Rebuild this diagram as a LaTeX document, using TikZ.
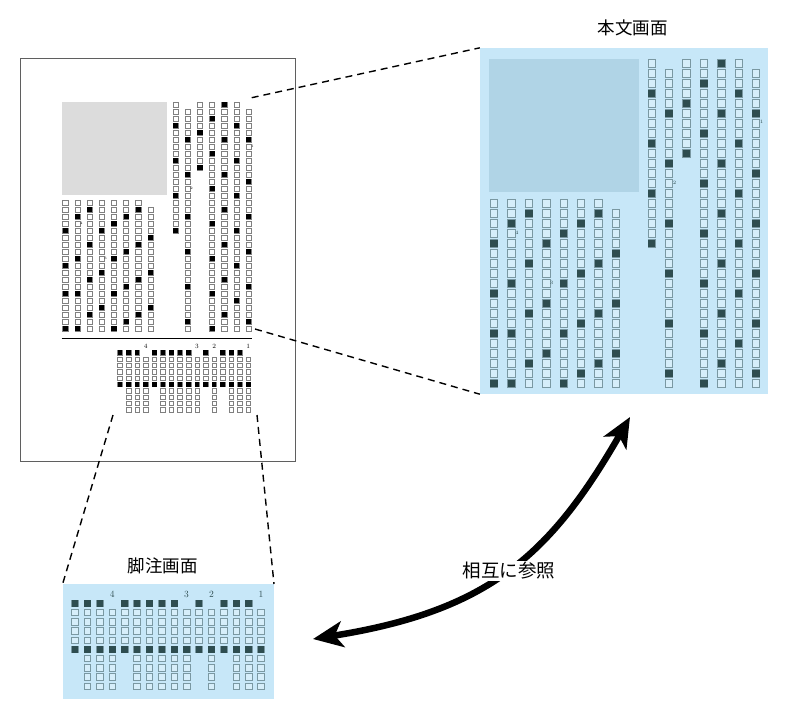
\documentclass[tikz,border=0pt]{standalone}
\usepackage{fontspec}
\newfontfamily\jpfont{Noto Sans CJK JP}
\usetikzlibrary{arrows.meta, positioning}
\definecolor{panelblue}{RGB}{199, 231, 248}
\definecolor{figblue}{RGB}{176, 212, 230}
\definecolor{inkteal}{RGB}{46, 77, 80}
\definecolor{edgeteal}{RGB}{122, 152, 162}
\definecolor{boxfill}{RGB}{214, 238, 250}
\definecolor{figgray}{RGB}{220, 220, 220}
\definecolor{pageedge}{RGB}{95, 95, 95}

% one column of body text: x, first row, last row, filled rows
\newcommand{\bodycol}[4]{%
  \foreach \rw in {#2,...,#3}
    \draw[opensq] ({\ox+\sc*(#1-3.7)},{\oy+\sc*(59.7+10*\rw)}) rectangle ++({\sc*7.4},{\sc*7.2});
  \foreach \rw in {#4}
    \fill[fullsq] ({\ox+\sc*(#1-3.7)},{\oy+\sc*(59.7+10*\rw)}) rectangle ++({\sc*7.4},{\sc*7.2});
}
% one column of footnote text
\newcommand{\notecol}[4]{%
  \foreach \rw in {#2,...,#3}
    \draw[opensq] ({\ox+\sc*(#1-3.3)},{\oy+\sc*(600.1+9.2*\rw)}) rectangle ++({\sc*6.6},{\sc*6.4});
  \foreach \rw in {#4}
    \fill[fullsq] ({\ox+\sc*(#1-3.3)},{\oy+\sc*(600.1+9.2*\rw)}) rectangle ++({\sc*6.6},{\sc*6.4});
}
% note reference numbers
\newcommand{\bodymark}[3]{\node[marktext, anchor=west] (\pfx-mark#3) at ({\ox+\sc*#1},{\oy+\sc*(63.3+10*#2)}) {#3};}
\newcommand{\notemark}[2]{\node[notenum] (\pfx-note#2) at ({\ox+\sc*#1},{\oy+\sc*594.1}) {#2};}

\newcommand{\bodytext}{%
  \fill[figbox] ({\ox+\sc*489},{\oy+\sc*59}) rectangle ({\ox+\sc*639},{\oy+\sc*192.3});
  \bodycol{494.0}{14}{32}{18,23,27,32}
  \bodycol{511.4}{14}{32}{16,22,27,32}
  \bodycol{528.8}{14}{32}{15,20,25,30}
  \bodycol{546.2}{14}{32}{18,24,29}
  \bodycol{563.6}{14}{32}{17,22,27,32}
  \bodycol{581.0}{14}{32}{16,21,26,31}
  \bodycol{598.4}{14}{32}{15,20,25,30}
  \bodycol{615.8}{15}{32}{19,24,29}
  \bodycol{651.7}{0}{18}{3,8,13,18}
  \bodycol{669.1}{1}{32}{5,10,16,21,26,31}
  \bodycol{686.5}{0}{9}{4,9}
  \bodycol{703.9}{0}{32}{2,7,12,17,22,27,32}
  \bodycol{721.3}{0}{32}{0,5,10,15,20,25,30}
  \bodycol{738.7}{0}{32}{3,8,13,18,23,28}
  \bodycol{756.1}{1}{32}{5,11,16,21,26,31}
  \bodymark{514.9}{16.9}{4}
  \bodymark{549.7}{22.0}{3}
  \bodymark{672.6}{12.0}{2}
  \bodymark{759.6}{5.9}{1}
}

\newcommand{\notetext}{%
  \notecol{75.0}{0}{5}{0,5}
  \notecol{87.4}{0}{9}{0,5}
  \notecol{99.8}{0}{9}{0,5}
  \notecol{112.2}{1}{9}{5}
  \notecol{124.6}{0}{5}{0,5}
  \notecol{137.0}{0}{9}{0,5}
  \notecol{149.4}{0}{9}{0,5}
  \notecol{161.8}{0}{9}{0,5}
  \notecol{174.2}{0}{9}{0,5}
  \notecol{186.6}{1}{9}{5}
  \notecol{199.0}{0}{5}{0,5}
  \notecol{211.4}{1}{9}{5}
  \notecol{223.8}{0}{5}{0,5}
  \notecol{236.2}{0}{9}{0,5}
  \notecol{248.6}{0}{9}{0,5}
  \notecol{261.0}{1}{9}{5}
  \notemark{112.2}{4}
  \notemark{186.6}{3}
  \notemark{211.4}{2}
  \notemark{261.0}{1}
}

\begin{document}
\begin{tikzpicture}[x=1pt, y=-1pt,
    pagebox/.style={rectangle, draw=pageedge, line width=0.8pt, fill=white, inner sep=0pt},
    panel/.style={rectangle, fill=panelblue, inner sep=0pt},
    paneltitle/.style={font=\jpfont\fontsize{17.5}{20}\selectfont},
    zoomline/.style={dash pattern=on 7pt off 5pt, line width=1.4pt},
    linkarrow/.style={{Stealth[length=30pt,width=26pt,inset=8pt]}-{Stealth[length=30pt,width=26pt,inset=8pt]}, line width=6.5pt}
]
\useasboundingbox (0,0) rectangle (800,724);

% Page overview
\node[pagebox, minimum width=275pt, minimum height=403pt] (page) at (157.5,259.5) {};
\begin{scope}[opensq/.style={draw=gray, fill=white, line width=0.45pt}, fullsq/.style={fill=black},
    figbox/.style={fill=figgray}, marktext/.style={font=\fontsize{3.5}{3.5}\selectfont, inner sep=0pt},
    notenum/.style={font=\fontsize{6.5}{6.5}\selectfont, inner sep=0pt}]
  \def\pfx{small}\def\ox{-280.6}\def\oy{60.4}\def\sc{0.7}
  \bodytext
  \def\ox{68.25}\def\oy{-63.6}\def\sc{0.69}
  \notetext
\end{scope}
\draw[line width=0.7pt] (61.7,338.3) -- (251.7,338.3);

% Body screen
\node[panel, minimum width=288pt, minimum height=346pt] (bodypanel) at (624,221) {};
\node[paneltitle] (bodytitle) at (632.5,28) {本文画面};

% Footnote screen
\node[panel, minimum width=211pt, minimum height=115pt] (notepanel) at (168.3,641.7) {};
\node[paneltitle] (notetitle) at (162.5,566) {脚注画面};

\begin{scope}[opensq/.style={draw=edgeteal, fill=boxfill, line width=0.8pt}, fullsq/.style={fill=inkteal},
    figbox/.style={fill=figblue}, marktext/.style={font=\fontsize{5}{5}\selectfont, text=inkteal, inner sep=0pt},
    notenum/.style={font=\fontsize{9.5}{9.5}\selectfont, text=inkteal, inner sep=0pt}]
  \def\pfx{big}\def\ox{0}\def\oy{0}\def\sc{1}
  \bodytext
  \notetext
\end{scope}

% Zoom guides
\coordinate (bodytop) at (251.7,97.7);
\coordinate (bodybot) at (255,329);
\coordinate (noteleft) at (113,415);
\coordinate (noteright) at (257,415);
\draw[zoomline] (bodytop) -- (bodypanel.north west);
\draw[zoomline] (bodybot) -- (bodypanel.south west);
\draw[zoomline] (noteleft) -- (notepanel.north west);
\draw[zoomline] (noteright) -- (notepanel.north east);

% Cross reference
\coordinate (noteend) at (313,639);
\coordinate (bodyend) at (630,417);
\draw[linkarrow] (noteend) .. controls (488,611) and (550,556) .. (bodyend);
\node[fill=white, inner sep=1pt, font=\jpfont\fontsize{18.5}{20}\selectfont] (xref) at (509,571) {相互に参照};
\end{tikzpicture}
\end{document}
